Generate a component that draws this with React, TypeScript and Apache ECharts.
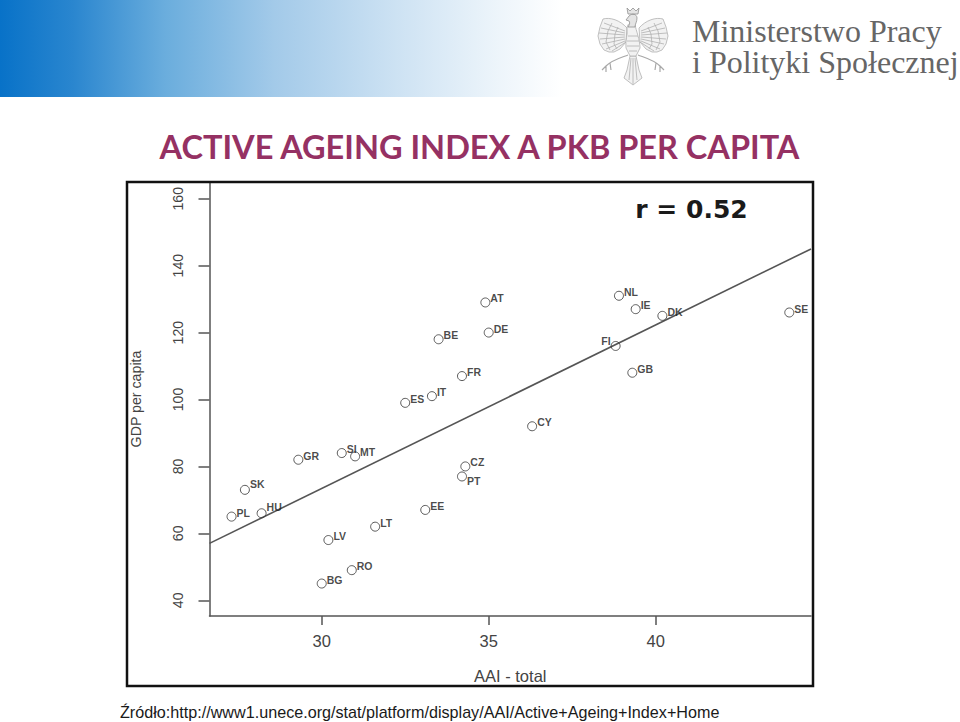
import React, { useEffect, useRef } from "react";
import * as echarts from "echarts";

const countryCodes = ["SK", "PL", "HU", "GR", "SI", "MT", "LV", "LT", "BG", "RO", "EE", "CZ", "PT", "ES", "IT", "BE", "FR", "AT", "DE", "CY", "FI", "GB", "NL", "IE", "DK", "SE"];
const aaiValues = [27.7, 27.3, 28.2, 29.3, 30.6, 31.0, 30.2, 31.6, 30.0, 30.9, 33.1, 34.3, 34.2, 32.5, 33.3, 33.5, 34.2, 34.9, 35.0, 36.3, 38.8, 39.3, 38.9, 39.4, 40.2, 44.0];
const gdpValues = [73, 65, 66, 82, 84, 83, 58, 62, 45, 49, 67, 80, 77, 99, 101, 118, 107, 129, 120, 92, 116, 108, 131, 127, 125, 126];
const trendX = [26.64, 44.65];
const trendY = [57, 145];
const xTicks = [30, 35, 40];
const yTicks = [40, 60, 80, 100, 120, 140, 160];
const xRange = [26.64, 44.65];
const yRange = [35.3, 165];

const TITLE = "ACTIVE AGEING INDEX A PKB PER CAPITA";
const SOURCE = "Źródło:http://www1.unece.org/stat/platform/display/AAI/Active+Ageing+Index+Home";
const R_LABEL = "r = 0.52";
const X_NAME = "AAI - total";
const Y_NAME = "GDP per capita";
const LOGO_LINES = ["Ministerstwo Pracy", "i Polityki Społecznej"];

const WING =
  "M627 28C620 20 610 17 603 19L600 27L598 36L600 44L604 50L609 52L614 52L620 49L626 42Z" +
  "M625 31L604 23M625 33L601 28M625 35L599 33M625 37L600 39M625 39L602 44M625 41L606 49M626 42L612 51" +
  "M612 23L608 31L606 42L610 50M618 27L615 34L614 44L617 49";
const BODY =
  "M627 28C628 22 632 22 635 25C636 30 640 40 640 48L636 56L630 56L626 48C625 40 628 35 627 28Z" +
  "M628 36L638 36M627 41L639 41M627 46L639 46M629 51L637 51";
const HEAD =
  "M626 20L629 16C632 13 637 14 637 18C637 22 635 24 635 27L628 27C630 24 630 22 629 21Z" +
  "M627 8L630 11L633 8L636 11L639 8L638 14L628 14Z";
const TAIL =
  "M630 56L627 70L624 78L633 85L642 78L639 70L636 56Z" +
  "M631 58L629 80M633 58L633 84M635 58L637 80";
const LEGS =
  "M628 55C620 58 612 60 606 66L602 70M606 66L606 72M610 63L611 70" +
  "M638 55C646 58 654 60 660 66L664 70M660 66L660 72M656 63L655 70";

echarts.graphic.registerShape("eagleWing", echarts.graphic.extendPath(WING, {}));
echarts.graphic.registerShape("eagleBody", echarts.graphic.extendPath(BODY, {}));
echarts.graphic.registerShape("eagleHead", echarts.graphic.extendPath(HEAD, {}));
echarts.graphic.registerShape("eagleTail", echarts.graphic.extendPath(TAIL, {}));
echarts.graphic.registerShape("eagleLegs", echarts.graphic.extendPath(LEGS, {}));

const axisGrey = "#555555";
const tickGrey = "#444444";
const eagleStyle = { fill: "#f2f2f2", stroke: "#b0b0b0", lineWidth: 0.8 };

function labelFor(code: string) {
  const base = {
    show: true,
    position: "right",
    distance: 0,
    offset: [0, -4],
    formatter: "{b}",
    fontSize: 10.5,
    fontWeight: "bold",
    color: "#1a1a1a",
    fontFamily: "Liberation Sans",
  };
  if (code === "FI") return { ...base, position: "left", offset: [0, -5] };
  if (code === "PT") return { ...base, offset: [0, 5] };
  if (code === "SK" || code === "HU") return { ...base, offset: [0, -6] };
  return base;
}

export default function App() {
  const ref = useRef<HTMLDivElement>(null);
  useEffect(() => {
    const chart = echarts.init(ref.current!, null, { renderer: "svg" });
    chart.setOption({
      animation: false,
      backgroundColor: "#ffffff",
      grid: { left: 209.5, top: 182, width: 601.5, height: 434, containLabel: false },
      xAxis: {
        type: "value",
        min: xRange[0],
        max: xRange[1],
        name: X_NAME,
        nameLocation: "middle",
        nameGap: 51,
        nameTextStyle: { fontSize: 16.5, color: tickGrey, fontFamily: "Liberation Sans" },
        splitLine: { show: false },
        axisLine: { onZero: false, lineStyle: { color: axisGrey, width: 1.5 } },
        axisTick: { show: true, length: 9, customValues: xTicks, lineStyle: { color: axisGrey, width: 1.5 } },
        axisLabel: {
          customValues: xTicks,
          margin: 16,
          fontSize: 16.5,
          color: tickGrey,
          fontFamily: "Liberation Sans",
        },
      },
      yAxis: {
        type: "value",
        min: yRange[0],
        max: yRange[1],
        name: Y_NAME,
        nameLocation: "middle",
        nameGap: 67,
        nameRotate: 90,
        nameTextStyle: { fontSize: 14.2, color: tickGrey, fontFamily: "Liberation Sans" },
        splitLine: { show: false },
        axisLine: { onZero: false, lineStyle: { color: axisGrey, width: 1.5 } },
        axisTick: { show: true, length: 11, customValues: yTicks, lineStyle: { color: axisGrey, width: 1.5 } },
        axisLabel: {
          customValues: yTicks,
          rotate: 90,
          margin: 32,
          fontSize: 14.2,
          color: tickGrey,
          fontFamily: "Liberation Sans",
          align: "center",
          verticalAlign: "middle",
        },
      },
      series: [
        {
          type: "line",
          name: "trend",
          data: trendX.map((x, i) => [x, trendY[i]]),
          symbol: "none",
          silent: true,
          z: 2,
          lineStyle: { color: "#555555", width: 1.6 },
        },
        {
          type: "scatter",
          name: "countries",
          symbol: "circle",
          symbolSize: 9,
          z: 3,
          itemStyle: { color: "rgba(255,255,255,0)", borderColor: "#333333", borderWidth: 1 },
          data: countryCodes.map((code, i) => ({
            name: code,
            value: [aaiValues[i], gdpValues[i]],
            label: labelFor(code),
          })),
        },
      ],
      graphic: [
        {
          type: "rect",
          z: 0,
          shape: { x: 0, y: 0, width: 610, height: 97 },
          style: {
            fill: new echarts.graphic.LinearGradient(0, 0, 1, 0, [
              { offset: 0, color: "#0872c8" },
              { offset: 0.12, color: "#2a86cf" },
              { offset: 0.27, color: "#6aaddd" },
              { offset: 0.45, color: "#a3cae9" },
              { offset: 0.65, color: "#cde2f3" },
              { offset: 0.8, color: "#eaf3fa" },
              { offset: 0.92, color: "#ffffff" },
              { offset: 1, color: "#ffffff" },
            ]),
          },
        },
        { type: "eagleWing", style: eagleStyle },
        { type: "eagleWing", x: 1266, scaleX: -1, style: eagleStyle },
        { type: "eagleLegs", style: { fill: "none", stroke: "#a8a8a8", lineWidth: 1.2 } },
        { type: "eagleTail", style: eagleStyle },
        { type: "eagleBody", style: eagleStyle },
        { type: "eagleHead", style: { fill: "#e4e4e4", stroke: "#909090", lineWidth: 0.8 } },
        {
          type: "text",
          x: 692,
          y: 15,
          style: { text: LOGO_LINES.join("\n"), font: "32px 'Liberation Serif'", lineHeight: 31, fill: "#666666", verticalAlign: "top" },
        },
        {
          type: "text",
          x: 479.5,
          y: 146,
          style: { text: TITLE, font: "bold 32.5px Lato", fill: "#953163", align: "center", verticalAlign: "middle" },
        },
        {
          type: "text",
          x: 691.5,
          y: 209,
          style: { text: R_LABEL, font: "bold 25px 'DejaVu Sans'", fill: "#1a1a1a", align: "center", verticalAlign: "middle" },
        },
        {
          type: "text",
          x: 120,
          y: 712,
          style: { text: SOURCE, font: "16.16px 'Liberation Sans'", fill: "#1a1a1a", verticalAlign: "middle" },
        },
        {
          type: "rect",
          z: 10,
          shape: { x: 127, y: 182, width: 686, height: 504 },
          style: { fill: "none", stroke: "#111111", lineWidth: 2.5 },
        },
      ],
    });
    return () => chart.dispose();
  }, []);
  return <div ref={ref} style={{ position: "fixed", left: 0, top: 0, width: 960, height: 722 }} />;
}
